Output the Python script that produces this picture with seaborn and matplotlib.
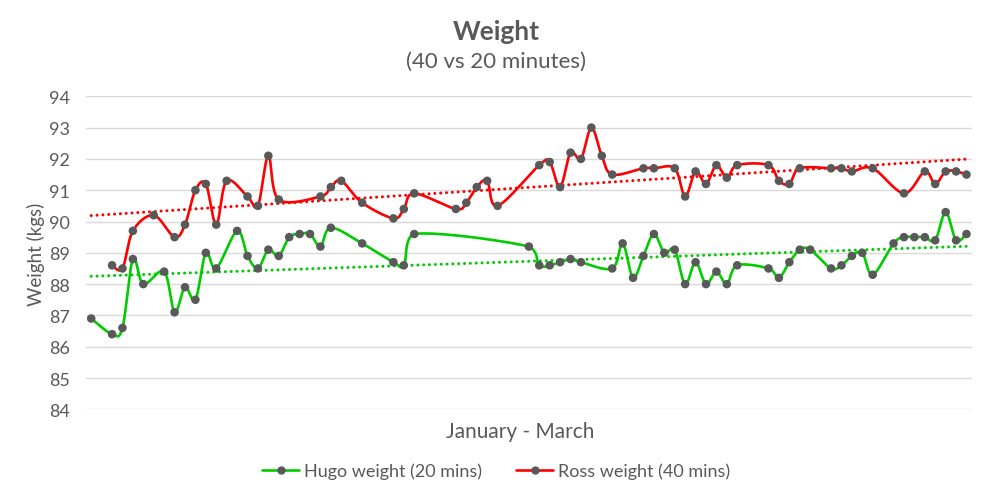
import numpy as np
import pandas as pd
import matplotlib
matplotlib.use("Agg")
import matplotlib.pyplot as plt
from matplotlib.lines import Line2D
import seaborn as sns

# ---------------- data (day index from start of January) ----------------
hugo_days = [0, 2, 3, 4, 5, 7, 8, 9, 10, 11, 12, 14, 15, 16, 17, 18, 19, 20, 21, 22, 23,
             26, 29, 30, 31, 42, 43, 44, 45, 46, 47, 50, 51, 52, 53, 54, 55, 56, 57, 58,
             59, 60, 61, 62, 65, 66, 67, 68, 69, 71, 72, 73, 74, 75, 77, 78, 79, 80, 81,
             82, 83, 84]
hugo_weight = [86.9, 86.4, 86.6, 88.8, 88.0, 88.4, 87.1, 87.9, 87.5, 89.0, 88.5, 89.7, 88.9,
               88.5, 89.1, 88.9, 89.5, 89.6, 89.6, 89.2, 89.8, 89.3, 88.7, 88.6, 89.6, 89.2,
               88.6, 88.6, 88.7, 88.8, 88.7, 88.5, 89.3, 88.2, 88.9, 89.6, 89.0, 89.1, 88.0,
               88.7, 88.0, 88.4, 88.0, 88.6, 88.5, 88.2, 88.7, 89.1, 89.1, 88.5, 88.6, 88.9,
               89.0, 88.3, 89.3, 89.5, 89.5, 89.5, 89.4, 90.3, 89.4, 89.6]

ross_days = [2, 3, 4, 6, 8, 9, 10, 11, 12, 13, 15, 16, 17, 18, 22, 23, 24, 26, 29, 30, 31,
             35, 36, 37, 38, 39, 43, 44, 45, 46, 47, 48, 49, 50, 53, 54, 56, 57, 58, 59, 60,
             61, 62, 65, 66, 67, 68, 71, 72, 73, 75, 78, 80, 81, 82, 83, 84]
ross_weight = [88.6, 88.5, 89.7, 90.2, 89.5, 89.9, 91.0, 91.2, 89.9, 91.3, 90.8, 90.5, 92.1,
               90.7, 90.8, 91.1, 91.3, 90.6, 90.1, 90.4, 90.9, 90.4, 90.6, 91.1, 91.3, 90.5,
               91.8, 91.9, 91.1, 92.2, 92.0, 93.0, 92.1, 91.5, 91.7, 91.7, 91.7, 90.8, 91.6,
               91.2, 91.8, 91.4, 91.8, 91.8, 91.3, 91.2, 91.7, 91.7, 91.7, 91.6, 91.7, 90.9,
               91.6, 91.2, 91.6, 91.6, 91.5]

y_ticks = [84, 85, 86, 87, 88, 89, 90, 91, 92, 93, 94]
series_names = ["Hugo weight (20 mins)", "Ross weight (40 mins)"]
title = "Weight"
subtitle = "(40 vs 20 minutes)"
x_label = "January - March"
y_label = "Weight (kgs)"

GREEN = "#00cc00"
RED = "#ff0000"
MARK = "#595959"
TEXT = "#595959"
GRID = "#d9d9d9"

sns.set_theme(style="white")
plt.rcParams["font.family"] = ["Lato", "DejaVu Sans"]

W, H = 992, 502
fig = plt.figure(figsize=(W / 100, H / 100), dpi=100)
ax_l, ax_r, ax_t, ax_b = 86, 971.7, 97.3, 410.3
ax = fig.add_axes([ax_l / W, 1 - ax_b / H, (ax_r - ax_l) / W, (ax_b - ax_t) / H])

XMIN, XMAX = -0.5, 84.5
YMIN, YMAX = 84, 94
sx = (ax_r - ax_l) / (XMAX - XMIN)
sy = (ax_b - ax_t) / (YMAX - YMIN)


def smooth(xs, ys, n=24):
    """Excel-like Catmull-Rom smoothing done in pixel-proportional space."""
    P = np.column_stack([np.asarray(xs, float) * sx, np.asarray(ys, float) * sy])
    out = []
    t = np.linspace(0, 1, n)[:, None]
    for i in range(len(P) - 1):
        p0 = P[i - 1] if i > 0 else P[i]
        p1, p2 = P[i], P[i + 1]
        p3 = P[i + 2] if i + 2 < len(P) else P[i + 1]
        c1 = p1 + (p2 - p0) / 6
        c2 = p2 - (p3 - p1) / 6
        c1[0] = np.clip(c1[0], p1[0], p2[0])
        c2[0] = np.clip(c2[0], p1[0], p2[0])
        seg = (1 - t) ** 3 * p1 + 3 * (1 - t) ** 2 * t * c1 + 3 * (1 - t) * t ** 2 * c2 + t ** 3 * p2
        out.append(seg if i == 0 else seg[1:])
    C = np.vstack(out)
    return C[:, 0] / sx, C[:, 1] / sy


hugo = pd.DataFrame({"day": hugo_days, "weight": hugo_weight})
ross = pd.DataFrame({"day": ross_days, "weight": ross_weight})

for df, col in [(hugo, GREEN), (ross, RED)]:
    # linear trendline
    k, b = np.polyfit(df["day"], df["weight"], 1)
    tx = np.array([0, 84])
    ax.plot(tx, k * tx + b, color=col, lw=2.2, linestyle=(0, (0.01, 1.9)),
            dash_capstyle="round", zorder=2)
for df, col in [(hugo, GREEN), (ross, RED)]:
    cx, cy = smooth(df["day"], df["weight"])
    ax.plot(cx, cy, color=col, lw=1.9, solid_capstyle="round", zorder=3)
    sns.scatterplot(data=df, x="day", y="weight", ax=ax, color=MARK, s=38,
                    edgecolor="none", zorder=4, legend=False)

ax.set_xlim(XMIN, XMAX)
ax.set_ylim(YMIN, YMAX)
ax.set_yticks(y_ticks)
ax.set_xticks([])
ax.grid(axis="y", color=GRID, lw=1.0)
ax.grid(axis="x", visible=False)
ax.set_axisbelow(True)
for s in ax.spines.values():
    s.set_visible(False)
ax.tick_params(axis="y", length=0, pad=11.5, labelsize=13, labelcolor=TEXT)
ax.set_xlabel("")
ax.set_ylabel("")

fig.text(36 / W, 1 - 254 / H, y_label, rotation=90, ha="center", va="center",
         fontsize=13.5, color=TEXT)
fig.text(520 / W, 1 - 432 / H, x_label, ha="center", va="center",
         fontsize=15, color=TEXT)
fig.text(0.5, 1 - 32 / H, title, ha="center", va="center", fontsize=19,
         fontweight="bold", color=TEXT)
fig.text(0.5, 1 - 62 / H, subtitle, ha="center", va="center", fontsize=16,
         color=TEXT)

handles = [Line2D([0], [0], color=c, lw=1.9, marker="o", markersize=5,
                  markerfacecolor=MARK, markeredgecolor=MARK) for c in (GREEN, RED)]
leg = fig.legend(handles, series_names, loc="center", bbox_to_anchor=(0.5, 1 - 472 / H),
                 ncol=2, frameon=False, fontsize=13, handlelength=2.05,
                 handletextpad=0.25, columnspacing=1.9)
for txt in leg.get_texts():
    txt.set_color(TEXT)

fig.savefig("out.png", dpi=100)
